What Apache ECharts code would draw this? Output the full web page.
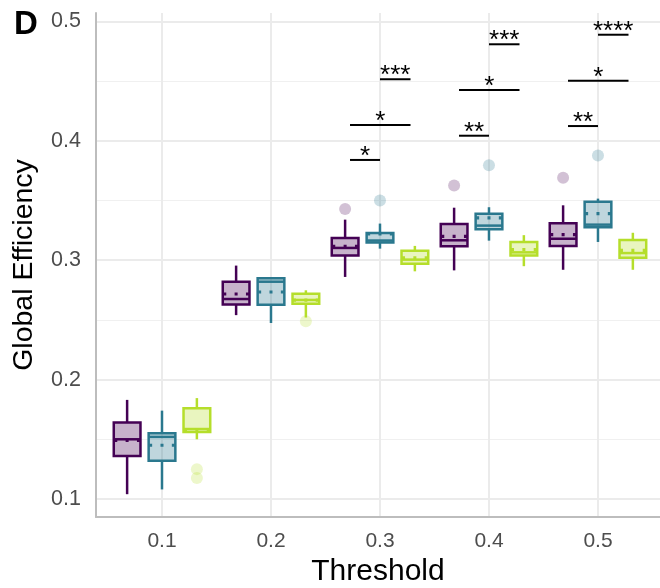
<!DOCTYPE html>
<html>
<head>
<meta charset="utf-8">
<script src="https://cdn.jsdelivr.net/npm/echarts@6/dist/echarts.min.js"></script>
<style>
html,body{margin:0;padding:0;background:#fff;}
#chart{width:660px;height:588px;}
</style>
</head>
<body>
<div id="chart"></div>
<script>
// ---------- data ----------
const categories = ['0.1', '0.2', '0.3', '0.4', '0.5'];
const yTicks = [0.1, 0.2, 0.3, 0.4, 0.5];
const yMinorTicks = [0.15, 0.25, 0.35, 0.45];

// [whisker low, Q1, median, Q3, whisker high] per threshold
const purpleStats = [
  [0.104, 0.136, 0.150, 0.164, 0.183],
  [0.254, 0.263, 0.2675, 0.282, 0.2955],
  [0.286, 0.304, 0.3103, 0.3187, 0.334],
  [0.2915, 0.3117, 0.3167, 0.3304, 0.344],
  [0.292, 0.312, 0.318, 0.331, 0.346]
];
const purpleMean = [0.149, 0.2717, 0.3117, 0.320, 0.3215];
const purpleOutliers = [[2, 0.343], [3, 0.3625], [4, 0.369]];

const tealStats = [
  [0.108, 0.132, 0.152, 0.155, 0.174],
  [0.2474, 0.2628, 0.282, 0.285, 0.285],
  [0.3097, 0.3148, 0.3165, 0.3229, 0.3307],
  [0.3164, 0.326, 0.329, 0.339, 0.3444],
  [0.3153, 0.3276, 0.3298, 0.3489, 0.3516]
];
const tealMean = [0.145, 0.2734, 0.322, 0.3354, 0.339];
const tealOutliers = [[2, 0.350], [3, 0.3796], [4, 0.3877]];

const limeStats = [
  [0.150, 0.156, 0.1586, 0.176, 0.1845],
  [0.252, 0.2636, 0.2667, 0.272, 0.2748],
  [0.2907, 0.297, 0.3005, 0.308, 0.312],
  [0.295, 0.304, 0.3066, 0.3153, 0.321],
  [0.292, 0.302, 0.306, 0.317, 0.323]
];
const limeMean = [0.158, 0.2665, 0.302, 0.309, 0.3083];
const limeOutliers = [[0, 0.125], [0, 0.1175], [1, 0.2488]];

// significance brackets
const sigCategory = [2, 2, 2, 3, 3, 3, 4, 4, 4];
const sigFrom = [0, 0, 1, 0, 0, 1, 0, 0, 1];
const sigTo = [1, 2, 2, 1, 2, 2, 1, 2, 2];
const sigY = [0.3840, 0.4133, 0.4516, 0.4043, 0.4426, 0.4809, 0.4124, 0.4504, 0.4889];
const sigLabel = ['*', '*', '***', '**', '*', '***', '**', '*', '****'];

// ---------- styling ----------
const FONT = "'Liberation Sans', Arial, sans-serif";
const colors = ['#440154', '#2A788E', '#B5DE2B'];
function alpha(hex, a) {
  const r = parseInt(hex.slice(1, 3), 16), g = parseInt(hex.slice(3, 5), 16), b = parseInt(hex.slice(5, 7), 16);
  return 'rgba(' + r + ',' + g + ',' + b + ',' + a + ')';
}
const dodge = [-0.32, 0, 0.32];
const bracketDodge = [-0.275, 0, 0.28];
const BOX_W = 0.245;

function boxData(stats, means, gi) {
  return stats.map((s, i) => [i + 1 + dodge[gi], s[0], s[1], s[2], s[3], s[4], means[i]]);
}
function outlierData(list, gi) {
  return list.map(o => [o[0] + 1 + dodge[gi], o[1]]);
}

function boxRender(color) {
  const fill = alpha(color, 0.3);
  return function (params, api) {
    const x = api.value(0);
    const pLow = api.coord([x, api.value(1)]);
    const pQ1 = api.coord([x, api.value(2)]);
    const pMed = api.coord([x, api.value(3)]);
    const pQ3 = api.coord([x, api.value(4)]);
    const pHigh = api.coord([x, api.value(5)]);
    const pMean = api.coord([x, api.value(6)]);
    const hw = api.size([BOX_W, 0])[0] / 2;
    const cx = pLow[0];
    const lw = 2.5;
    const x0 = cx - hw + 0.5, x1 = cx + hw - 0.5;
    const period = (x1 - x0 - 3) / 2;
    return {
      type: 'group',
      children: [
        { type: 'line', shape: { x1: cx, y1: pHigh[1], x2: cx, y2: pQ3[1] }, style: { stroke: color, lineWidth: lw } },
        { type: 'line', shape: { x1: cx, y1: pQ1[1], x2: cx, y2: pLow[1] }, style: { stroke: color, lineWidth: lw } },
        { type: 'rect', shape: { x: cx - hw, y: pQ3[1], width: 2 * hw, height: pQ1[1] - pQ3[1] },
          style: { fill: fill, stroke: color, lineWidth: lw } },
        { type: 'line', shape: { x1: cx - hw, y1: pMed[1], x2: cx + hw, y2: pMed[1] }, style: { stroke: color, lineWidth: lw } },
        { type: 'line', shape: { x1: x0, y1: pMean[1], x2: x1, y2: pMean[1] },
          style: { stroke: color, lineWidth: 3.2, lineDash: [3, period - 3], lineCap: 'butt' } }
      ]
    };
  };
}

const sigData = sigCategory.map((c, i) => [c + 1 + bracketDodge[sigFrom[i]], c + 1 + bracketDodge[sigTo[i]], sigY[i]]);

function sigRender(params, api) {
  const p1 = api.coord([api.value(0), api.value(2)]);
  const p2 = api.coord([api.value(1), api.value(2)]);
  return {
    type: 'group',
    children: [
      { type: 'line', shape: { x1: p1[0], y1: p1[1], x2: p2[0], y2: p2[1] }, style: { stroke: '#000', lineWidth: 2 } },
      { type: 'text', x: (p1[0] + p2[0]) / 2, y: p1[1] - 3,
        style: { text: sigLabel[params.dataIndex], fill: '#000', font: '26px ' + FONT, align: 'center', verticalAlign: 'middle' } }
    ]
  };
}

const chart = echarts.init(document.getElementById('chart'), null, { renderer: 'canvas' });

const option = {
  animation: false,
  backgroundColor: '#ffffff',
  textStyle: { fontFamily: FONT },
  grid: { left: 96, right: 0, top: 13, bottom: 71, containLabel: false, outerBoundsMode: 'none' },
  graphic: [
    { type: 'text', left: 14, top: 8, style: { text: 'D', font: 'bold 33px ' + FONT, fill: '#000' } }
  ],
  xAxis: {
    type: 'value',
    min: 0.3945,
    max: 5.569,
    name: 'Threshold',
    nameLocation: 'middle',
    nameGap: 39,
    nameTextStyle: { fontSize: 30, color: '#000', fontFamily: FONT },
    axisLine: { show: true, lineStyle: { color: '#bdbdbd', width: 2 } },
    axisTick: { show: false, customValues: [1, 2, 3, 4, 5] },
    axisLabel: {
      customValues: [1, 2, 3, 4, 5],
      formatter: v => categories[Math.round(v) - 1],
      fontSize: 21, color: '#4d4d4d', margin: 14, fontFamily: FONT
    },
    splitLine: { show: true, lineStyle: { color: '#ebebeb', width: 2 } }
  },
  yAxis: [
    {
      type: 'value',
      min: 0.0849,
      max: 0.5071,
      name: 'Global Efficiency',
      nameLocation: 'middle',
      nameGap: 57,
      nameTextStyle: { fontSize: 28.5, color: '#000', fontFamily: FONT },
      axisLine: { show: true, lineStyle: { color: '#bdbdbd', width: 2 } },
      axisTick: { show: false, customValues: yTicks },
      axisLabel: {
        customValues: yTicks,
        formatter: v => v.toFixed(1),
        fontSize: 21.5, color: '#4d4d4d', margin: 15, fontFamily: FONT
      },
      splitLine: { show: true, lineStyle: { color: '#ebebeb', width: 2 } }
    },
    {
      type: 'value',
      min: 0.0849,
      max: 0.5071,
      position: 'left',
      axisLine: { show: false },
      axisTick: { show: false, customValues: yMinorTicks },
      axisLabel: { show: false, customValues: yMinorTicks },
      splitLine: { show: true, lineStyle: { color: '#f0f0f0', width: 1 } }
    }
  ],
  series: [
    { type: 'scatter', name: 'purple outliers', data: outlierData(purpleOutliers, 0), symbolSize: 12,
      itemStyle: { color: alpha(colors[0], 0.3) }, silent: true },
    { type: 'scatter', name: 'teal outliers', data: outlierData(tealOutliers, 1), symbolSize: 12,
      itemStyle: { color: alpha(colors[1], 0.3) }, silent: true },
    { type: 'scatter', name: 'lime outliers', data: outlierData(limeOutliers, 2), symbolSize: 12,
      itemStyle: { color: alpha(colors[2], 0.3) }, silent: true },
    { type: 'custom', name: 'purple', data: boxData(purpleStats, purpleMean, 0), renderItem: boxRender(colors[0]), silent: true, z: 3 },
    { type: 'custom', name: 'teal', data: boxData(tealStats, tealMean, 1), renderItem: boxRender(colors[1]), silent: true, z: 3 },
    { type: 'custom', name: 'lime', data: boxData(limeStats, limeMean, 2), renderItem: boxRender(colors[2]), silent: true, z: 3 },
    { type: 'custom', name: 'significance', data: sigData, renderItem: sigRender, silent: true, z: 4, clip: false }
  ]
};
chart.setOption(option);
</script>
</body>
</html>
